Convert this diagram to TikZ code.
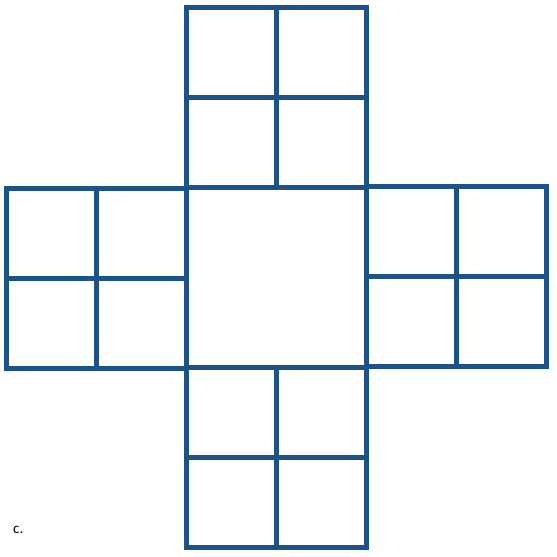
\documentclass[tikz,border=0pt]{standalone}
\usepackage{fontspec}
\setmainfont{Carlito}
\definecolor{netblue}{RGB}{31,82,132}
\begin{document}
\begin{tikzpicture}[x=1pt, y=-1pt, line join=miter, line cap=rect]

		\tikzset{face/.style={draw=netblue, line width=5pt}}

		\useasboundingbox (0,0) rectangle (557,557);
		\draw[face] (186.5,187) rectangle (366.5,367);
		\foreach \x/\y in {186.5/7.5, 6.5/188.5, 366.5/186.5, 186.5/367.5}
		{
		\draw[face] (\x,\y) rectangle ++(180,180);
		\draw[face] (\x+90,\y)--++(0,180);
		\draw[face] (\x,\y+90)--++(180,0);
		}
		\node[anchor=base west, inner sep=0pt, font=\fontsize{15}{18}\selectfont] (lab) at (13,533) {c.};
		\end{tikzpicture}
\end{document}
